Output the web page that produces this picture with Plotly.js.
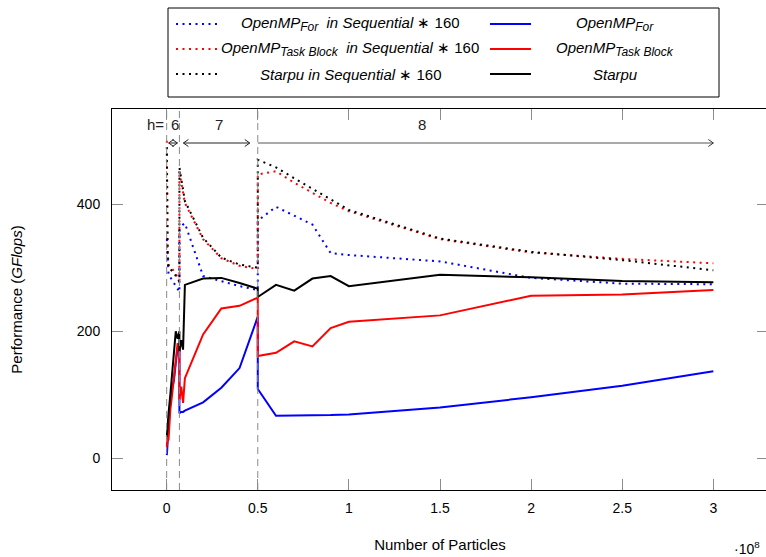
<!DOCTYPE html>
<html>
<head>
<meta charset="utf-8">
<script src="https://cdn.plot.ly/plotly-3.0.1.min.js"></script>
<style>
  html, body { margin: 0; padding: 0; overflow: hidden; background: #ffffff; }
</style>
</head>
<body>
<div id="chart"></div>
<script>
// Number of particles (in units of 10^8), one block per octree height h
const xH6 = [0.001, 0.005, 0.01, 0.02, 0.03, 0.04, 0.05, 0.06, 0.07];
const xH7 = [0.07, 0.08, 0.09, 0.1, 0.2, 0.3, 0.4, 0.5];
const xH8 = [0.5, 0.6, 0.7, 0.8, 0.9, 1.0, 1.5, 2.0, 2.5, 3.0];
const particles = xH6.concat(xH7, xH8);

// Height boundaries and their labels
const hEdges = [0, 0.07, 0.5, 3.0];
const hLabels = ['6', '7', '8'];

// Performance in GFlops
const forSeq    = [345, 300, 290, 285, 280, 275, 270, 265, 262,
                   360, 365, 368, 370, 287, 279, 271, 265,
                   374, 396, 382, 368, 323, 320, 310, 284, 275, 274];
const forPar    = [5, 25, 44, 92, 110, 123, 150, 173, 171,
                   71, 73, 73, 75, 88, 111, 142, 223,
                   109, 67, 67, 67, 68, 69, 80, 96, 114, 137];
const taskSeq   = [500, 330, 305, 300, 298, 295, 290, 285, 280,
                   452, 436, 418, 402, 345, 315, 303, 298,
                   447, 452, 434, 418, 402, 389, 345, 324, 314, 307];
const taskPar   = [18, 40, 28, 76, 100, 128, 160, 181, 176,
                   92, 113, 87, 126, 195, 236, 240, 253,
                   161, 166, 184, 176, 205, 215, 225, 256, 258, 265];
const starpuSeq = [490, 320, 300, 298, 295, 292, 288, 283, 278,
                   458, 440, 420, 405, 347, 316, 305, 300,
                   470, 458, 441, 424, 407, 391, 346, 325, 312, 296];
const starpuPar = [34, 60, 70, 100, 130, 165, 200, 188, 200,
                   168, 186, 171, 273, 283, 284, 276, 267,
                   254, 273, 264, 283, 287, 271, 289, 285, 279, 277];

// Legend texts (subscripts slightly larger than Plotly's default 70%)
const sub = t => '<sub><span style="font-size:12px">' + t + '</span></sub>';
const legendNames = [
  '<i>OpenMP' + sub('For') + '  in Sequential</i> ∗ 160',
  '<i>OpenMP' + sub('For') + '</i>',
  '<i>OpenMP' + sub('Task Block') + '  in Sequential</i> ∗ 160',
  '<i>OpenMP' + sub('Task Block') + '</i>',
  '<i>Starpu in Sequential</i> ∗ 160',
  '<i>Starpu</i>'
];

const BLUE = '#0000ff', RED = '#ff0000', BLACK = '#000000';
const DOTS = '2px,4.5px';
const FONT = 'Liberation Sans, Arial, sans-serif';

const series = [
  { y: forSeq,    color: BLUE,  dash: DOTS },
  { y: forPar,    color: BLUE,  dash: 'solid' },
  { y: taskSeq,   color: RED,   dash: DOTS },
  { y: taskPar,   color: RED,   dash: 'solid' },
  { y: starpuSeq, color: BLACK, dash: DOTS },
  { y: starpuPar, color: BLACK, dash: 'solid' }
];

const traces = series.map((s, i) => ({
  type: 'scatter',
  mode: 'lines',
  x: particles,
  y: s.y,
  name: legendNames[i],
  line: { color: s.color, width: 2, dash: s.dash },
  showlegend: false,
  hoverinfo: 'skip'
}));

// Plot area in pixels, used to place the hand-built legend in paper units
const L = 112, R = 2, T = 109, B = 67, W = 770, H = 557;
const PW = W - L - R, PH = H - T - B;
const X_RANGE = [-0.3, 3.3];
const pxPerUnit = PW / (X_RANGE[1] - X_RANGE[0]);
const px = v => (v - L) / PW;
const py = v => (H - B - v) / PH;

const shapes = [];
const annotations = [];

// Dashed separators between heights
hEdges.slice(0, 3).forEach(e => {
  shapes.push({
    type: 'line', xref: 'x', yref: 'paper', x0: e, x1: e, y0: 0, y1: 1,
    line: { color: '#8a8a8a', width: 1, dash: '7px,5px' }
  });
});

// Height arrows: a shaft between two boundaries plus open chevron heads
const arrowY = py(143), labelY = py(124);
const ARROW_COLOR = '#222222';
function shaft(a, b, gapA, gapB, color) {
  shapes.push({
    type: 'line', xref: 'x', yref: 'paper',
    x0: a + gapA / pxPerUnit, x1: b - gapB / pxPerUnit, y0: arrowY, y1: arrowY,
    line: { color: color, width: 1 }
  });
}
function head(tip, dir, color) {
  // dir = +1 points right, -1 points left
  const back = -5 * dir;
  shapes.push({
    type: 'path', xref: 'x', yref: 'paper',
    xsizemode: 'pixel', ysizemode: 'pixel', xanchor: tip, yanchor: arrowY,
    path: 'M' + back + ',3.5L0,0L' + back + ',-3.5',
    line: { color: color, width: 1 }
  });
}
// h = 6
shaft(hEdges[0], hEdges[1], 2, 2, ARROW_COLOR);
head(hEdges[0] + 2 / pxPerUnit, -1, ARROW_COLOR);
head(hEdges[1] - 2 / pxPerUnit, 1, ARROW_COLOR);
// h = 7
shaft(hEdges[1], hEdges[2], 4, 8, ARROW_COLOR);
head(hEdges[1] + 4 / pxPerUnit, -1, ARROW_COLOR);
head(hEdges[2] - 8 / pxPerUnit, 1, ARROW_COLOR);
// h = 8
shaft(hEdges[2], hEdges[3], 0, 0, '#555555');
head(hEdges[3], 1, '#333333');

const labelFont = { family: FONT, size: 15, color: '#222' };
annotations.push({
  xref: 'x', yref: 'paper', x: hEdges[0], y: labelY, xanchor: 'right', yanchor: 'middle',
  xshift: -1, text: 'h=', showarrow: false, font: labelFont
});
annotations.push({
  xref: 'x', yref: 'paper', x: (hEdges[0] + hEdges[1]) / 2, y: labelY, xanchor: 'center', yanchor: 'middle',
  xshift: 2, text: hLabels[0], showarrow: false, font: labelFont
});
annotations.push({
  xref: 'x', yref: 'paper', x: (hEdges[1] + hEdges[2]) / 2, y: labelY, xanchor: 'center', yanchor: 'middle',
  text: hLabels[1], showarrow: false, font: labelFont
});
annotations.push({
  xref: 'x', yref: 'paper', x: 1.4, y: labelY, xanchor: 'center', yanchor: 'middle',
  text: hLabels[2], showarrow: false, font: labelFont
});

// Axis multiplier
annotations.push({
  xref: 'paper', yref: 'paper', x: px(747), y: py(548), xanchor: 'center', yanchor: 'middle',
  text: '·10<sup>8</sup>', showarrow: false, font: { family: FONT, size: 14, color: '#000' }
});

// Legend: framed box, two columns, three rows
shapes.push({
  type: 'rect', xref: 'paper', yref: 'paper',
  x0: px(168), x1: px(719), y0: py(97), y1: py(8),
  line: { color: '#000', width: 1 }, fillcolor: 'rgba(0,0,0,0)'
});
const rowY = [24, 49, 74];
const sampleX = [[176, 219], [490, 531]];
const textX = [350, 615];
series.forEach((s, i) => {
  const row = Math.floor(i / 2), col = i % 2;
  shapes.push({
    type: 'line', xref: 'paper', yref: 'paper',
    x0: px(sampleX[col][0]), x1: px(sampleX[col][1]), y0: py(rowY[row]), y1: py(rowY[row]),
    line: { color: s.color, width: 2, dash: s.dash }
  });
  annotations.push({
    xref: 'paper', yref: 'paper', x: px(textX[col]), y: py(rowY[row]),
    xanchor: 'center', yanchor: 'middle', text: legendNames[i], showarrow: false,
    font: { family: FONT, size: 15, color: '#000' }
  });
});

const axisCommon = {
  showline: true, linecolor: '#000', linewidth: 1, mirror: 'allticks',
  ticks: 'inside', ticklen: 11, tickcolor: '#8c8c8c', tickwidth: 1,
  showgrid: false, zeroline: false,
  tickfont: { family: FONT, size: 14, color: '#000' }
};

const layout = {
  width: W, height: H,
  margin: { l: L, r: R, t: T, b: B },
  paper_bgcolor: '#fff', plot_bgcolor: '#fff',
  showlegend: false,
  font: { family: FONT, size: 14, color: '#000' },
  xaxis: Object.assign({}, axisCommon, {
    range: X_RANGE,
    tickvals: [0, 0.5, 1, 1.5, 2, 2.5, 3],
    ticktext: ['0', '0.5', '1', '1.5', '2', '2.5', '3'],
    ticklabelstandoff: 5,
    title: { text: 'Number of Particles', font: { family: FONT, size: 15 }, standoff: 24 }
  }),
  yaxis: Object.assign({}, axisCommon, {
    range: [-50, 550],
    tickvals: [0, 200, 400],
    ticktext: ['0', '200', '400'],
    ticklabelstandoff: 8,
    title: { text: 'Performance (<i>GFlops</i>)', font: { family: FONT, size: 15 }, standoff: 50 }
  }),
  shapes: shapes,
  annotations: annotations
};

Plotly.newPlot('chart', traces, layout, { staticPlot: true, displayModeBar: false });
</script>
</body>
</html>
